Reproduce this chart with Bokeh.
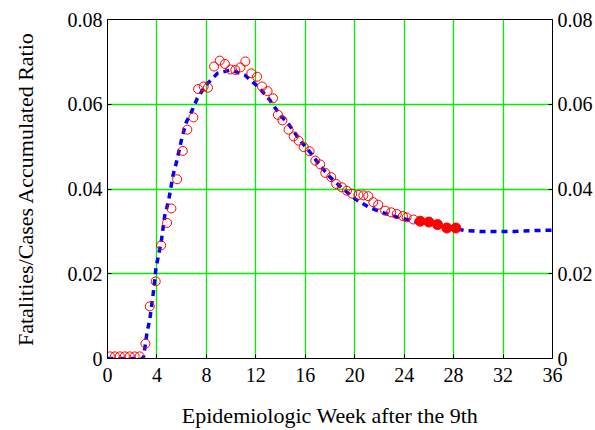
from bokeh.plotting import figure
from bokeh.models import FixedTicker, LinearAxis, Range1d
from bokeh.embed import file_html
from bokeh.resources import INLINE

# observed (open circles)
obs_week = [0.2, 0.6, 1.0, 1.4, 1.8, 2.2, 2.6, 3.07, 3.42, 3.9, 4.34, 4.82, 5.17, 5.63,
            6.09, 6.46, 6.95, 7.33, 7.78, 8.13, 8.62, 9.08, 9.5, 9.94, 10.34, 10.75, 11.15,
            11.64, 12.1, 12.5, 12.95, 13.39, 13.79, 14.15, 14.65, 15.06, 15.46, 15.87,
            16.35, 16.81, 17.21, 17.62, 18.1, 18.5, 18.96, 19.37, 19.8, 20.3, 20.7, 21.1,
            21.5, 21.9, 22.46, 22.95, 23.4, 23.9, 24.2, 24.75]
obs_ratio = [0.0005, 0.0005, 0.0005, 0.0005, 0.0005, 0.0005, 0.0005, 0.0035, 0.0123,
             0.0182, 0.0267, 0.0320, 0.0354, 0.0423, 0.0490, 0.0540, 0.0569, 0.0636,
             0.0642, 0.0639, 0.0689, 0.0703, 0.0695, 0.0682, 0.0681, 0.0687, 0.0701,
             0.0673, 0.0665, 0.0642, 0.0631, 0.0614, 0.0575, 0.0562, 0.0540, 0.0524,
             0.0514, 0.0499, 0.0489, 0.0467, 0.0458, 0.0438, 0.0428, 0.0412, 0.0404,
             0.0396, 0.0389, 0.0386, 0.0385, 0.0383, 0.0369, 0.0363, 0.0349, 0.0345,
             0.0341, 0.0336, 0.0333, 0.0328]

# most recent observations (filled circles)
recent_week = [25.3, 26.0, 26.7, 27.45, 28.18]
recent_ratio = [0.0324, 0.0322, 0.0316, 0.0308, 0.0308]

# model (blue dashed)
model_week = [0, 2.9, 3.2, 3.42, 3.7, 3.93, 4.36, 4.63, 4.95, 5.3, 5.58, 6.03, 6.38, 6.84,
              7.25, 7.92, 8.9, 10.0, 11.15, 12.23, 13.1, 13.9, 14.73, 15.54, 16.32, 17.16,
              18.0, 18.9, 20.1, 21.2, 22.4, 23.5, 24.5, 25.5, 26.5, 27.5, 28.9, 30.1, 31.3,
              33.0, 34.6, 36.0]
model_ratio = [0, 0, 0.0062, 0.0092, 0.0154, 0.0215, 0.0278, 0.0337, 0.0373, 0.0432,
               0.0463, 0.0522, 0.0558, 0.0585, 0.0613, 0.0644, 0.0673, 0.0681, 0.0668,
               0.0640, 0.0611, 0.0577, 0.0550, 0.0516, 0.0489, 0.0457, 0.0428, 0.0404,
               0.0375, 0.0356, 0.0343, 0.0333, 0.0326, 0.0320, 0.0315, 0.0310, 0.0302,
               0.0300, 0.0300, 0.0300, 0.0302, 0.0303]

x_ticks = [0, 4, 8, 12, 16, 20, 24, 28, 32, 36]
y_ticks = [0, 0.02, 0.04, 0.06, 0.08]
y_tick_labels = ["0", "0.02", "0.04", "0.06", "0.08"]

FONT = "'Liberation Serif', 'Times New Roman', serif"

p = figure(width=595, height=430, output_backend="svg", toolbar_location=None,
           x_range=Range1d(0, 36), y_range=Range1d(0, 0.08),
           min_border_left=107, min_border_right=43, min_border_top=19, min_border_bottom=72)
p.background_fill_color = "white"
p.border_fill_color = "white"
p.outline_line_color = "black"
p.outline_line_width = 1

# grid
p.xgrid.ticker = FixedTicker(ticks=x_ticks)
p.ygrid.ticker = FixedTicker(ticks=y_ticks)
p.xgrid.grid_line_color = "#00f000"
p.ygrid.grid_line_color = "#00f000"
p.xgrid.grid_line_width = 1.3
p.ygrid.grid_line_width = 1.3

overrides = {v: s for v, s in zip(y_ticks, y_tick_labels)}

def style(ax):
    ax.axis_line_color = "black"
    ax.major_tick_line_color = "black"
    ax.major_tick_in = 4
    ax.major_tick_out = 0
    ax.minor_tick_line_color = None
    ax.major_label_text_font = FONT
    ax.major_label_text_font_size = "20px"
    ax.major_label_text_color = "black"
    ax.axis_label_text_font = FONT
    ax.axis_label_text_font_size = "22px"
    ax.axis_label_text_font_style = "normal"
    ax.axis_label_text_color = "black"

p.xaxis.ticker = FixedTicker(ticks=x_ticks)
p.xaxis.axis_label = "Epidemiologic Week after the 9th"
p.xaxis.major_label_standoff = 9
p.xaxis.axis_label_standoff = 18
style(p.xaxis[0])

p.yaxis.ticker = FixedTicker(ticks=y_ticks)
p.yaxis.major_label_overrides = overrides
p.yaxis.axis_label = "Fatalities/Cases Accumulated Ratio"
p.yaxis.major_label_standoff = 5
p.yaxis.axis_label_standoff = 27
style(p.yaxis[0])

ry = LinearAxis(ticker=FixedTicker(ticks=y_ticks), major_label_overrides=overrides)
ry.major_label_standoff = 5
style(ry)
p.add_layout(ry, "right")

p.line(model_week, model_ratio, line_color="#0000ff", line_width=3.5, line_dash="6 5")
p.scatter(obs_week, obs_ratio, marker="circle", size=9, fill_color=None,
          line_color="#ff0000", line_width=1)
p.scatter(recent_week, recent_ratio, marker="circle", size=10, fill_color="#ff0000",
          line_color="#ff0000", line_width=1)

open("out.html", "w").write(file_html(p, INLINE))
